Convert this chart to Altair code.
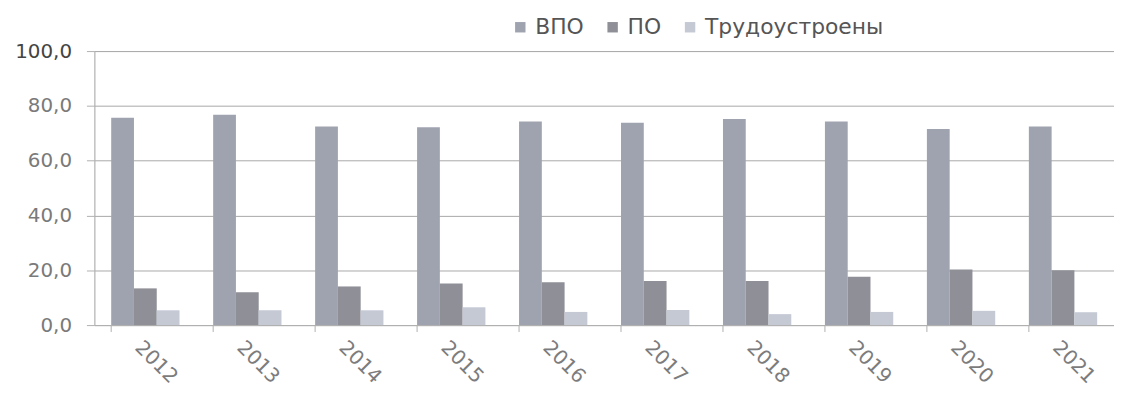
import altair as alt
import pandas as pd

years = ["2012", "2013", "2014", "2015", "2016", "2017", "2018", "2019", "2020", "2021"]
series = ["ВПО", "ПО", "Трудоустроены"]
vpo = [75.7, 76.8, 72.5, 72.2, 74.3, 73.8, 75.2, 74.3, 71.6, 72.5]
po = [13.4, 12.0, 14.1, 15.2, 15.6, 16.1, 16.1, 17.6, 20.3, 20.0]
trud = [5.4, 5.4, 5.4, 6.5, 4.8, 5.5, 4.0, 4.8, 5.2, 4.7]
colors = ["#9fa3b0", "#8e8f97", "#c5c9d4"]

rows = []
for i, y in enumerate(years):
    for s, vals in zip(series, [vpo, po, trud]):
        rows.append({"year": y, "series": s, "value": vals[i]})
df = pd.DataFrame(rows)
ticks_df = pd.DataFrame({"year": years})

FONT = "DejaVu Sans"
W, H = 1027, 276

xscale = alt.Scale(domain=years, paddingInner=0.33, paddingOuter=0.165)

bars = alt.Chart(df).mark_bar().encode(
    x=alt.X("year:N", scale=xscale, sort=years,
            axis=alt.Axis(title=None, labelAngle=45, labelAlign="left", labelBaseline="top",
                          labelFontSize=20, labelColor="#7c7c7c", labelFont=FONT,
                          labelPadding=12, ticks=False, domainColor="#b0b0b0",
                          grid=False)),
    xOffset=alt.XOffset("series:N", sort=series),
    y=alt.Y("value:Q", scale=alt.Scale(domain=[0, 100]),
            axis=alt.Axis(title=None, values=[0, 20, 40, 60, 80, 100],
                          labelExpr="replace(format(datum.value, '.1f'), '.', ',')",
                          labelFontSize=20, labelFont=FONT,
                          labelColor=alt.condition("datum.value == 100", alt.value("#444444"), alt.value("#7a7a7a")),
                          labelPadding=15, tickSize=8, tickColor="#b0b0b0",
                          domainColor="#b0b0b0", gridColor="#a8a8a8", gridWidth=1)),
    color=alt.Color("series:N", sort=series,
                    scale=alt.Scale(domain=series, range=colors),
                    legend=alt.Legend(title=None, orient="none", direction="horizontal",
                                      legendX=418, legendY=-35,
                                      symbolType="square", symbolSize=110, symbolStrokeWidth=0,
                                      labelFontSize=22, labelColor="#555555", labelFont=FONT,
                                      labelLimit=400, columnPadding=18, symbolOffset=0)),
)

ticks = alt.Chart(ticks_df).mark_rule(color="#b0b0b0", strokeWidth=1).encode(
    x=alt.X("year:N", scale=xscale, sort=years, bandPosition=0),
    y=alt.value(H),
    y2=alt.value(H + 7),
)

chart = alt.layer(bars, ticks).properties(
    width=W, height=H,
    autosize=alt.AutoSizeParams(type="none"),
    padding={"left": 87, "top": 42, "right": 0, "bottom": 66},
).configure_view(stroke=None).configure(background="white")

chart.save("out.html", embed_options={"renderer": "svg", "actions": False})
